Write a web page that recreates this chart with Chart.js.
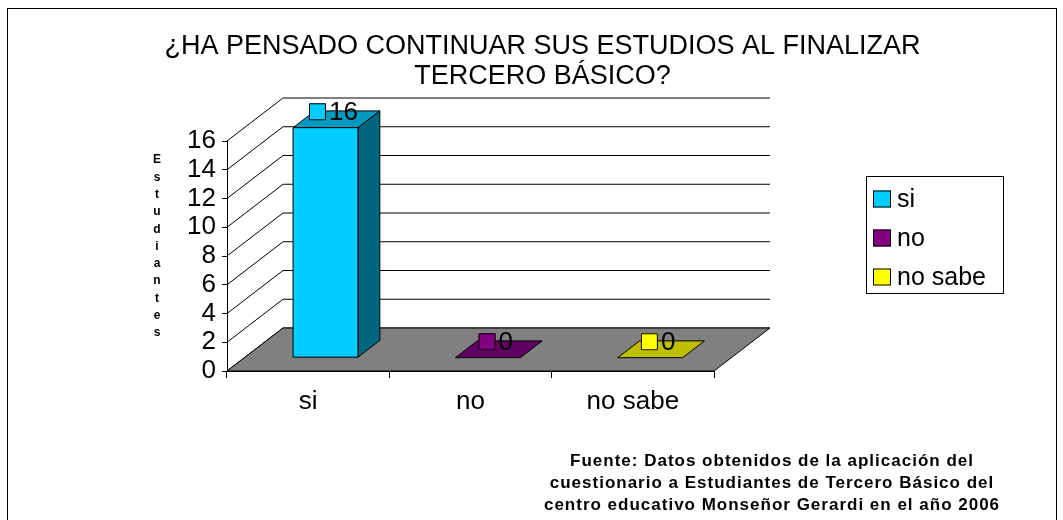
<!DOCTYPE html>
<html>
<head>
<meta charset="utf-8">
<title>¿Ha pensado continuar sus estudios al finalizar tercero básico?</title>
<script src="https://cdn.jsdelivr.net/npm/chart.js@4.4.1/dist/chart.umd.min.js"></script>
<style>
  html, body { margin: 0; padding: 0; background: #fff; }
  #wrap { width: 1063px; height: 520px; }
</style>
</head>
<body>
<div id="wrap"><canvas id="chart" width="1063" height="520"></canvas></div>
<script>
// Data
const categories = ["si", "no", "no sabe"];
const estudiantes = [16, 0, 0];
const yTicks = [0, 2, 4, 6, 8, 10, 12, 14, 16];
const titleLines = ["¿HA PENSADO CONTINUAR SUS ESTUDIOS AL FINALIZAR", "TERCERO BÁSICO?"];
const axisTitle = "Estudiantes";
const sourceLines = [
    "Fuente: Datos obtenidos de la aplicación del",
    "cuestionario a Estudiantes de Tercero Básico del",
    "centro educativo Monseñor Gerardi en el año 2006"
];

// Excel-like colours: front, top, side
const frontColors = ["#00CCFF", "#800080", "#FFFF00"];
const topColors = ["#0099BF", "#600060", "#BFBF00"];
const sideColors = ["#006680", "#400040", "#808000"];

const FONT = "'Liberation Sans', Arial, sans-serif";
const DX = 56, DY = -43;          // depth of the 3D box
const BAR_FRONT = 0.31, BAR_BACK = 0.70;

function poly(ctx, pts, fill) {
    ctx.beginPath();
    ctx.moveTo(pts[0][0], pts[0][1]);
    for (let i = 1; i < pts.length; i++) ctx.lineTo(pts[i][0], pts[i][1]);
    ctx.closePath();
    ctx.fillStyle = fill;
    ctx.fill();
    ctx.stroke();
}

const box3d = {
    id: "box3d",
    beforeDatasetsDraw(chart) {
        const { ctx, chartArea: a, scales: { y } } = chart;
        ctx.save();
        ctx.strokeStyle = "#000";
        ctx.lineWidth = 1;
        // side wall diagonals + back wall gridlines
        y.ticks.forEach(function (t) {
            const py = y.getPixelForValue(t.value);
            ctx.beginPath();
            ctx.moveTo(a.left, py);
            ctx.lineTo(a.left + DX, py + DY);
            ctx.lineTo(a.right + DX, py + DY);
            ctx.stroke();
        });
        // floor
        const y0 = y.getPixelForValue(0);
        poly(ctx, [[a.left, y0], [a.right, y0], [a.right + DX, y0 + DY], [a.left + DX, y0 + DY]], "#808080");
        ctx.restore();
    },
    beforeDatasetDraw() {
        return false; // bars drawn as 3D boxes below
    },
    afterDatasetsDraw(chart) {
        const ctx = chart.ctx;
        const meta = chart.getDatasetMeta(0);
        ctx.save();
        ctx.strokeStyle = "#000";
        ctx.lineWidth = 1;
        ctx.lineJoin = "round";
        meta.data.forEach(function (bar, i) {
            const p = bar.getProps(["x", "y", "base", "width"], true);
            const l = p.x - p.width / 2 + DX * BAR_FRONT;
            const r = p.x + p.width / 2 + DX * BAR_FRONT;
            const t = p.y + DY * BAR_FRONT;
            const b = p.base + DY * BAR_FRONT;
            const ddx = DX * (BAR_BACK - BAR_FRONT), ddy = DY * (BAR_BACK - BAR_FRONT);
            if (b - t > 0.5) {
                poly(ctx, [[r, t], [r + ddx, t + ddy], [r + ddx, b + ddy], [r, b]], sideColors[i]);
            }
            poly(ctx, [[l, t], [r, t], [r + ddx, t + ddy], [l + ddx, t + ddy]], topColors[i]);
            if (b - t > 0.5) {
                poly(ctx, [[l, t], [r, t], [r, b], [l, b]], frontColors[i]);
            }
            // data label: legend key + value
            const cx = (l + r + ddx) / 2 - 3;
            const cy = t + ddy / 2 - 7.5;
            ctx.font = "26px " + FONT;
            const txt = String(chart.data.datasets[0].data[i]);
            const tw = ctx.measureText(txt).width;
            const total = 17 + 3 + tw;
            const sx = cx - total / 2;
            ctx.fillStyle = frontColors[i];
            ctx.fillRect(sx, cy - 8.5, 17, 17);
            ctx.strokeRect(sx + 0.5, cy - 8, 16, 16);
            ctx.fillStyle = "#000";
            ctx.textBaseline = "middle";
            ctx.textAlign = "left";
            ctx.fillText(txt, sx + 20, cy + 1);
        });
        ctx.restore();
    },
    afterDraw(chart) {
        const ctx = chart.ctx;
        ctx.save();
        ctx.fillStyle = "#000";
        ctx.strokeStyle = "#000";
        ctx.lineWidth = 1;
        // outer frame
        ctx.strokeRect(7.5, 8.5, 1049, 540);

        // title
        ctx.font = "27px " + FONT;
        ctx.textAlign = "center";
        ctx.textBaseline = "middle";
        titleLines.forEach(function (line, k) {
            ctx.fillText(line, 542.5, 47 + k * 30);
        });

        // vertical axis title, one letter per line
        ctx.font = "bold 12px " + FONT;
        axisTitle.split("").forEach(function (ch, k) {
            ctx.fillText(ch, 157, 160 + k * 17.3);
        });

        // legend
        ctx.strokeRect(866.5, 176.5, 137, 117);
        ctx.font = "25px " + FONT;
        ctx.textAlign = "left";
        chart.data.labels.forEach(function (lab, k) {
            const cy = 199 + k * 39;
            ctx.fillStyle = frontColors[k];
            ctx.fillRect(873, cy - 8.5, 18, 17);
            ctx.strokeRect(873.5, cy - 8, 17, 16);
            ctx.fillStyle = "#000";
            ctx.fillText(lab, 897, cy + 1);
        });

        // source note
        ctx.font = "bold 17px " + FONT;
        ctx.textAlign = "center";
        ctx.letterSpacing = "1px";
        sourceLines.forEach(function (line, k) {
            ctx.fillText(line, 772, 461 + k * 22);
        });
        ctx.restore();
    }
};

const ctx = document.getElementById("chart").getContext("2d");
const myChart = new Chart(ctx, {
    type: "bar",
    data: {
        labels: categories,
        datasets: [{
            label: "Estudiantes",
            data: estudiantes,
            backgroundColor: frontColors,
            categoryPercentage: 0.8,
            barPercentage: 0.5
        }]
    },
    options: {
        responsive: false,
        animation: false,
        events: [],
        layout: { padding: { top: 141, right: 349, bottom: 0, left: 0 } },
        plugins: {
            legend: { display: false },
            title: { display: false },
            tooltip: { enabled: false }
        },
        scales: {
            x: {
                offset: true,
                grid: { offset: true, drawOnChartArea: false, drawTicks: true, tickLength: 7, color: "#000" },
                border: { display: true, color: "#000" },
                ticks: { color: "#000", font: { family: FONT, size: 26 }, padding: 8, maxRotation: 0 },
                afterFit: function (s) { s.height = 149; }
            },
            y: {
                min: 0,
                max: 16,
                afterBuildTicks: function (s) { s.ticks = yTicks.map(v => ({ value: v })); },
                grid: { drawOnChartArea: false, drawTicks: true, tickLength: 5, color: "#000" },
                border: { display: true, color: "#000" },
                ticks: { color: "#000", font: { family: FONT, size: 26 }, padding: 6, autoSkip: false },
                afterFit: function (s) { s.width = 227; }
            }
        }
    },
    plugins: [box3d]
});
</script>
</body>
</html>
